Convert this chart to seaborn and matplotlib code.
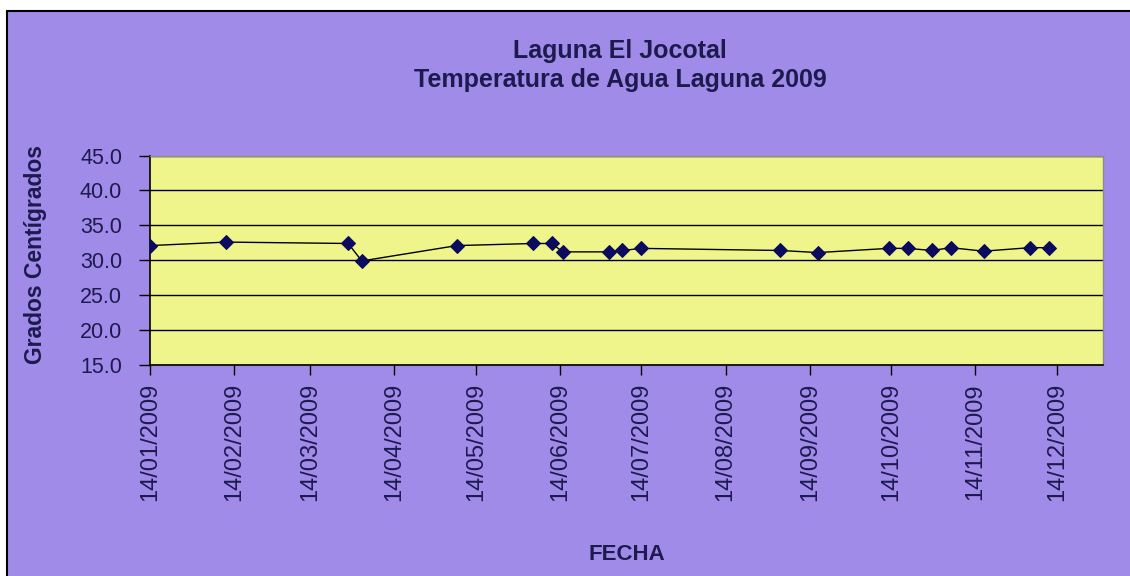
import matplotlib
matplotlib.use('Agg')
import matplotlib.pyplot as plt
import matplotlib.dates as mdates
from matplotlib.patches import Rectangle
import pandas as pd
import seaborn as sns

# water temperature readings
fechas = ['2009-01-14', '2009-02-11', '2009-03-28', '2009-04-02', '2009-05-07',
          '2009-06-04', '2009-06-11', '2009-06-15', '2009-07-02', '2009-07-07',
          '2009-07-14', '2009-09-03', '2009-09-17', '2009-10-13', '2009-10-20',
          '2009-10-29', '2009-11-05', '2009-11-17', '2009-12-04', '2009-12-11']
temperaturas = [32.1, 32.6, 32.4, 29.9, 32.1,
                32.4, 32.4, 31.2, 31.2, 31.4,
                31.7, 31.4, 31.1, 31.7, 31.7,
                31.4, 31.8, 31.3, 31.8, 31.8]
ticks_fecha = ['2009-%02d-14' % m for m in range(1, 13)]
ticks_y = [15, 20, 25, 30, 35, 40, 45]

purple = '#a18be9'
yellow = '#eff58b'
navy = '#1c1a4e'

sns.set_style('white')
plt.rcParams['font.family'] = ['Liberation Sans', 'DejaVu Sans']

df = pd.DataFrame({'fecha': pd.to_datetime(fechas), 'temp': temperaturas})

fig = plt.figure(figsize=(11.3, 5.76), dpi=100)
fig.patch.set_facecolor('white')
# chart area with black frame (cut off at right/bottom like the screenshot)
fig.patches.append(Rectangle((7 / 1130, -0.05), 1.1, (565 / 576) + 0.05,
                             transform=fig.transFigure, facecolor=purple,
                             edgecolor='black', linewidth=1.5, clip_on=False,
                             zorder=-10))

ax = fig.add_axes([150 / 1130, 211 / 576, 953 / 1130, 209.5 / 576])
ax.set_facecolor(yellow)

sns.lineplot(data=df, x='fecha', y='temp', ax=ax, color='black', linewidth=1,
             marker='D', markersize=7, markerfacecolor='#0a0a5e',
             markeredgecolor='#0a0a5e', zorder=3)

ax.set_xlim(pd.Timestamp('2009-01-14'), pd.Timestamp('2009-12-31'))
ax.set_ylim(15, 45)
ax.set_yticks(ticks_y)
ax.set_yticklabels(['%.1f' % v for v in ticks_y], fontsize=15.5, color=navy)
ax.set_xticks(pd.to_datetime(ticks_fecha))
ax.xaxis.set_major_formatter(mdates.DateFormatter('%d/%m/%Y'))
ax.tick_params(axis='x', rotation=90, labelsize=17, labelcolor=navy, pad=6,
               direction='out', length=7, width=1, color='black', bottom=True)
ax.tick_params(axis='y', direction='out', length=8, width=1, color='black',
               left=True, pad=12)
ax.grid(axis='y', color='black', linewidth=1)
ax.grid(axis='x', visible=False)
for s in ['left', 'bottom']:
    ax.spines[s].set_color('black')
    ax.spines[s].set_linewidth(1.2)
for s in ['top', 'right']:
    ax.spines[s].set_color('#8c8c8c')
    ax.spines[s].set_linewidth(1)

ax.set_xlabel('')
ax.set_ylabel('')
fig.text(36 / 1130, 1 - 254 / 576, 'Grados Centígrados', rotation=90, fontsize=16.5,
         fontweight='bold', color=navy, ha='center', va='center')
fig.text(627 / 1130, 1 - 555 / 576, 'FECHA', fontsize=16, fontweight='bold',
         color=navy, ha='center', va='center')
fig.text(620 / 1130, 1 - 51 / 576, 'Laguna El Jocotal', fontsize=18,
         fontweight='bold', color=navy, ha='center', va='center')
fig.text(620 / 1130, 1 - 80 / 576, 'Temperatura de Agua Laguna 2009', fontsize=18,
         fontweight='bold', color=navy, ha='center', va='center')

fig.savefig('out.png', dpi=100, facecolor=fig.get_facecolor())
